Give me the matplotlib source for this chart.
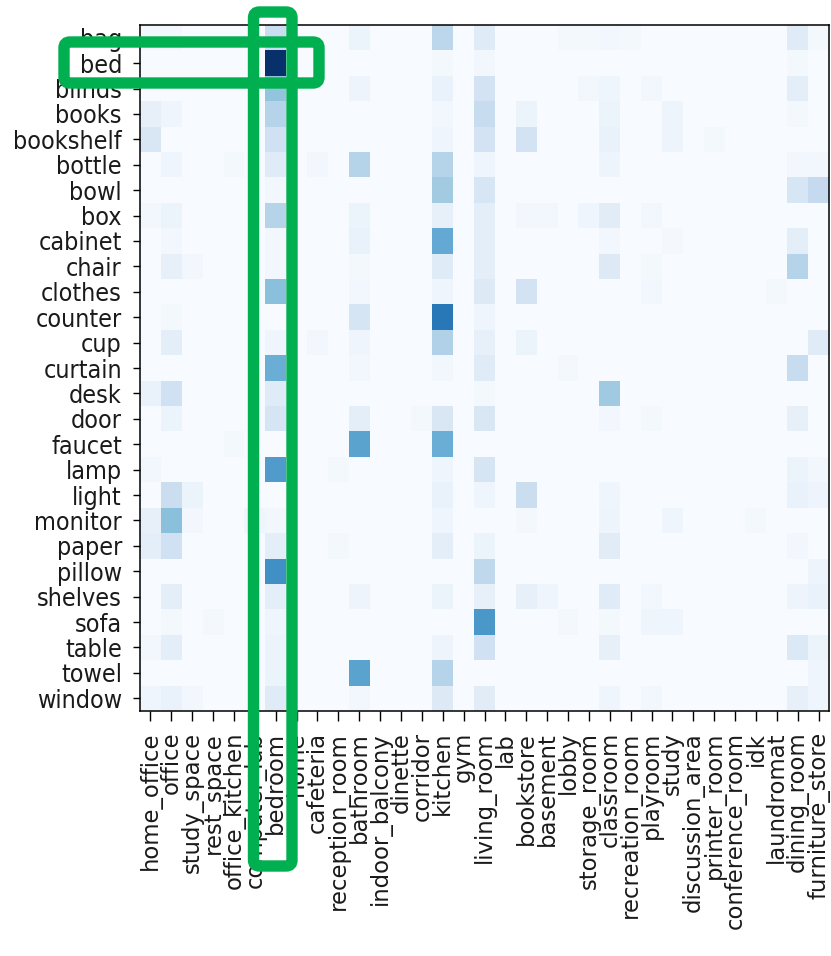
import matplotlib
matplotlib.use("Agg")
import matplotlib.pyplot as plt
import numpy as np
from matplotlib.patches import FancyBboxPatch
from matplotlib.transforms import IdentityTransform

rooms = ["home_office", "office", "study_space", "rest_space", "office_kitchen",
         "computer_lab", "bedroom", "home", "cafeteria", "reception_room",
         "bathroom", "indoor_balcony", "dinette", "corridor", "kitchen", "gym",
         "living_room", "lab", "bookstore", "basement", "lobby", "storage_room",
         "classroom", "recreation_room", "playroom", "study", "discussion_area",
         "printer_room", "conference_room", "idk", "laundromat", "dining_room",
         "furniture_store"]

objects = ["bag", "bed", "blinds", "books", "bookshelf", "bottle", "bowl", "box",
           "cabinet", "chair", "clothes", "counter", "cup", "curtain", "desk",
           "door", "faucet", "lamp", "light", "monitor", "paper", "pillow",
           "shelves", "sofa", "table", "towel", "window"]

# object -> room co-occurrence scores (one list per object, in room order)
bag = [.03, .03, 0, 0, 0, 0, .22, 0, 0, 0, .06,
       0, 0, 0, .28, 0, .12, 0, 0, 0, .02, .02,
       .03, .02, 0, 0, 0, 0, 0, 0, 0, .12, .02]
bed = [0, 0, 0, 0, 0, 0, 1.0, 0, 0, 0, 0,
       0, 0, 0, .02, 0, .03, 0, 0, 0, 0, 0,
       0, 0, 0, 0, 0, 0, 0, 0, 0, .02, 0]
blinds = [0, 0, 0, 0, 0, 0, .4, 0, 0, 0, .05,
          0, 0, 0, .07, 0, .18, 0, 0, 0, 0, .03,
          .04, 0, .03, 0, 0, 0, 0, 0, 0, .1, 0]
books = [.08, .04, 0, 0, 0, 0, .3, 0, 0, 0, 0,
         0, 0, 0, .03, 0, .24, 0, .06, 0, 0, 0,
         .06, 0, 0, .05, 0, 0, 0, 0, 0, .02, 0]
bookshelf = [.15, 0, 0, 0, 0, 0, .2, 0, 0, 0, 0,
             0, 0, 0, .04, 0, .18, 0, .18, 0, 0, 0,
             .07, 0, 0, .05, 0, .02, 0, 0, 0, 0, 0]
bottle = [0, .04, 0, 0, .02, 0, .12, 0, .03, 0, .3,
          0, 0, 0, .3, 0, .04, 0, 0, 0, 0, 0,
          .05, 0, 0, 0, 0, 0, 0, 0, 0, .03, .03]
bowl = [0, 0, 0, 0, 0, 0, .03, 0, 0, 0, 0,
        0, 0, 0, .36, 0, .16, 0, 0, 0, 0, 0,
        0, 0, 0, 0, 0, 0, 0, 0, 0, .16, .25]
box = [.03, .06, 0, 0, 0, 0, .3, 0, 0, 0, .06,
       0, 0, 0, .08, 0, .1, 0, .03, .03, 0, .04,
       .11, 0, .03, 0, 0, 0, 0, 0, 0, 0, 0]
cabinet = [0, .03, 0, 0, 0, 0, .03, 0, 0, 0, .07,
           0, 0, 0, .52, 0, .1, 0, 0, 0, 0, 0,
           .03, 0, 0, .02, 0, 0, 0, 0, 0, .1, 0]
chair = [0, .08, .03, 0, 0, 0, .03, 0, 0, 0, .02,
         0, 0, 0, .12, 0, .1, 0, 0, 0, 0, 0,
         .13, 0, .02, 0, 0, 0, 0, 0, 0, .3, 0]
clothes = [0, 0, 0, 0, 0, 0, .42, 0, 0, 0, .03,
           0, 0, 0, .04, 0, .13, 0, .18, 0, 0, 0,
           0, 0, .03, 0, 0, 0, 0, 0, .02, 0, 0]
counter = [0, .02, 0, 0, 0, 0, 0, 0, 0, 0, .17,
           0, 0, 0, .72, 0, .04, 0, 0, 0, 0, 0,
           0, 0, 0, 0, 0, 0, 0, 0, 0, 0, 0]
cup = [0, .1, 0, 0, 0, 0, .04, 0, .03, 0, .04,
       0, 0, 0, .32, 0, .08, 0, .06, 0, 0, 0,
       0, 0, 0, 0, 0, 0, 0, 0, 0, 0, .12]
curtain = [0, 0, 0, 0, 0, 0, .5, 0, 0, 0, .03,
           0, 0, 0, .03, 0, .12, 0, 0, 0, .02, 0,
           0, 0, 0, 0, 0, 0, 0, 0, 0, .24, 0]
desk = [.07, .2, 0, 0, 0, 0, .12, 0, 0, 0, 0,
        0, 0, 0, 0, 0, .02, 0, 0, 0, 0, 0,
        .37, 0, 0, 0, 0, 0, 0, 0, 0, 0, 0]
door = [0, .06, 0, 0, 0, 0, .17, 0, 0, 0, .1,
        0, 0, .02, .15, 0, .15, 0, 0, 0, 0, 0,
        .03, 0, .02, 0, 0, 0, 0, 0, 0, .08, 0]
faucet = [0, 0, 0, 0, .02, 0, 0, 0, 0, 0, .55,
          0, 0, 0, .5, 0, 0, 0, 0, 0, 0, 0,
          0, 0, 0, 0, 0, 0, 0, 0, 0, 0, 0]
lamp = [.03, 0, 0, 0, 0, 0, .58, 0, 0, .02, 0,
        0, 0, 0, .04, 0, .17, 0, 0, 0, 0, 0,
        0, 0, 0, 0, 0, 0, 0, 0, 0, .06, .03]
light = [0, .22, .06, 0, 0, 0, 0, 0, 0, 0, 0,
         0, 0, 0, .07, 0, .04, 0, .22, 0, 0, 0,
         .04, 0, 0, 0, 0, 0, 0, 0, 0, .07, .05]
monitor = [.08, .42, .03, 0, 0, .04, .03, 0, 0, 0, 0,
           0, 0, 0, .04, 0, 0, 0, .02, 0, 0, 0,
           .05, 0, 0, .04, 0, 0, 0, .02, 0, 0, 0]
paper = [.1, .2, 0, 0, 0, 0, .1, 0, 0, .02, 0,
         0, 0, 0, .1, 0, .06, 0, 0, 0, 0, 0,
         .11, 0, 0, 0, 0, 0, 0, 0, 0, .03, 0]
pillow = [0, 0, 0, 0, 0, 0, .63, 0, 0, 0, 0,
          0, 0, 0, 0, 0, .27, 0, 0, 0, 0, 0,
          0, 0, 0, 0, 0, 0, 0, 0, 0, 0, .05]
shelves = [0, .1, 0, 0, 0, 0, .1, 0, 0, 0, .05,
           0, 0, 0, .06, 0, .08, 0, .08, .04, 0, 0,
           .12, 0, .03, 0, 0, 0, 0, 0, 0, .05, .07]
sofa = [0, .02, 0, .02, 0, 0, .04, 0, 0, 0, 0,
        0, 0, 0, 0, 0, .6, 0, 0, 0, .02, 0,
        .02, 0, .04, .04, 0, 0, 0, 0, 0, 0, 0]
table = [.03, .1, 0, 0, 0, 0, .06, 0, 0, 0, 0,
         0, 0, 0, .05, 0, .2, 0, 0, 0, 0, 0,
         .08, 0, 0, 0, 0, 0, 0, 0, 0, .14, .06]
towel = [0, 0, 0, 0, 0, 0, .06, 0, 0, 0, .55,
         0, 0, 0, .3, 0, 0, 0, 0, 0, 0, 0,
         0, 0, 0, 0, 0, 0, 0, 0, 0, 0, .04]
window = [.04, .07, .03, 0, 0, 0, .12, 0, 0, 0, .03,
          0, 0, 0, .13, 0, .11, 0, 0, 0, 0, 0,
          .04, 0, .03, 0, 0, 0, 0, 0, 0, .08, .04]

scores = np.array([bag, bed, blinds, books, bookshelf, bottle, bowl, box,
                   cabinet, chair, clothes, counter, cup, curtain, desk, door,
                   faucet, lamp, light, monitor, paper, pillow, shelves, sofa,
                   table, towel, window])

W, H = 831, 956
fig = plt.figure(figsize=(W / 100, H / 100), dpi=100)
ax = fig.add_axes([140 / W, (H - 711) / H, 689 / W, 686 / H])

ax.imshow(scores, cmap="Blues", vmin=0, vmax=1, aspect="auto",
          interpolation="nearest")
ax.set_xticks(np.arange(len(rooms)))
ax.set_xticklabels(rooms, rotation=90, fontsize=16.4, color="#1a1a1a")
ax.set_yticks(np.arange(len(objects)))
ax.set_yticklabels(objects, fontsize=18, color="#1a1a1a",
                   fontstretch="condensed")
ax.tick_params(axis="x", length=7, width=1, pad=8)
ax.tick_params(axis="y", length=5, width=1, pad=8)
for spine in ax.spines.values():
    spine.set_linewidth(1.1)

# green highlight frames around the "bed" row and "bedroom" column
green = "#00b050"
frames = [(64, H - 83, 319 - 64, 83 - 42),
          (253.5, H - 866, 292 - 253.5, 866 - 12)]
for x0, y0, w, h in frames:
    fig.add_artist(FancyBboxPatch(
        (x0, y0), w, h, boxstyle="round,pad=0,rounding_size=6",
        transform=IdentityTransform(), fill=False, edgecolor=green,
        linewidth=8.2, zorder=10))

fig.savefig("out.png", dpi=100)
